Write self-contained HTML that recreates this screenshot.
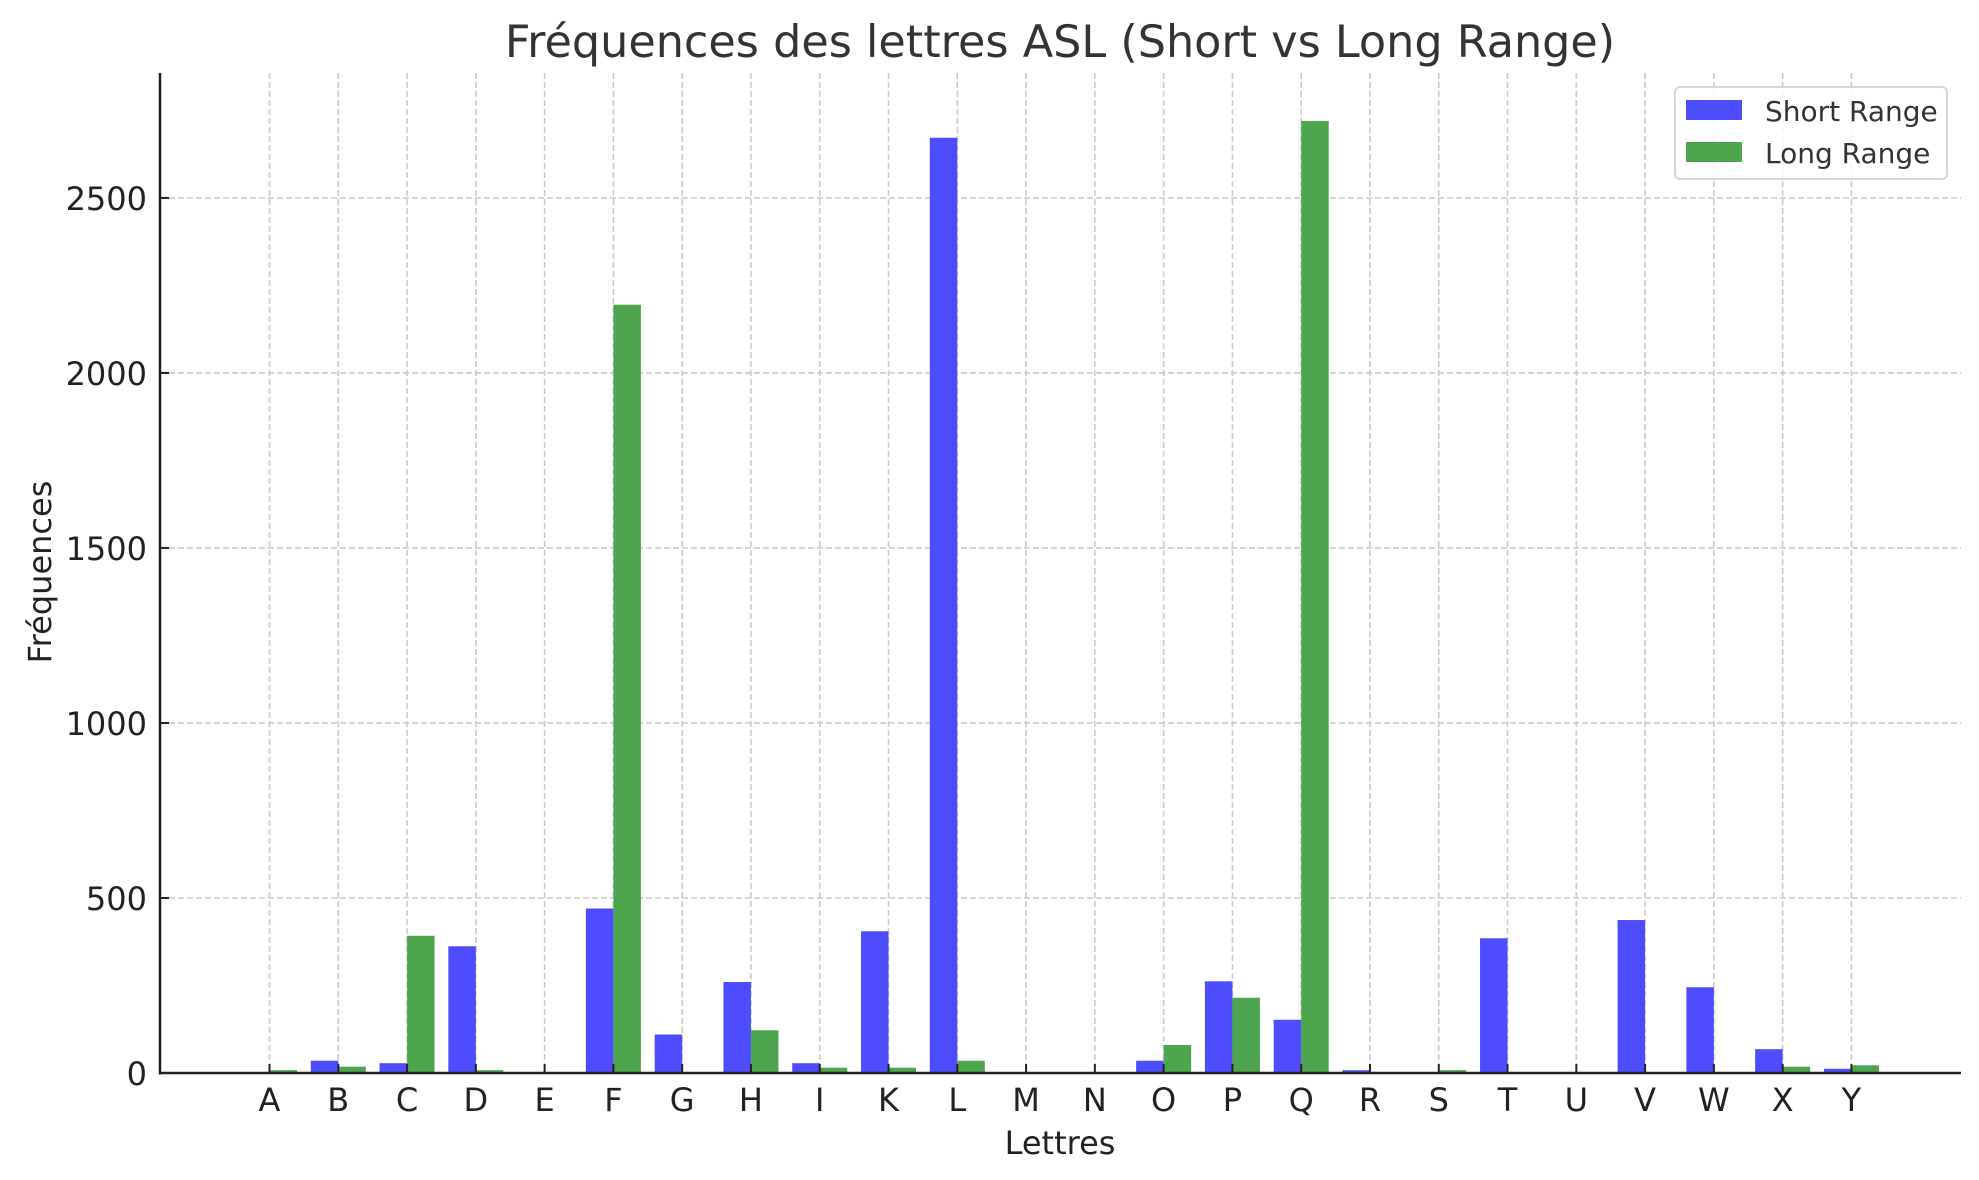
<!DOCTYPE html>
<html><head><meta charset="utf-8"><style>
html,body{margin:0;padding:0;background:#fff;}
svg{display:block;font-family:"DejaVu Sans","Liberation Sans",sans-serif;}
</style></head><body>
<svg id="chart" width="1979" height="1180" viewBox="0 0 1979 1180" xmlns="http://www.w3.org/2000/svg">
<rect width="1979" height="1180" fill="#fff"/>
<text x="1060" y="57" font-size="44.5" fill="#333" text-anchor="middle">Fréquences des lettres ASL (Short vs Long Range)</text>
<g id="grid"></g>
<g id="bars"></g>
<g id="axes"></g>
<text x="1060" y="1154" font-size="32" fill="#222" text-anchor="middle">Lettres</text>
<text transform="translate(51,572) rotate(-90)" font-size="32" fill="#222" text-anchor="middle">Fréquences</text>
<g>
<rect x="1675" y="87" width="272" height="92" rx="5" fill="#fff" fill-opacity="0.8" stroke="#d6d6d6" stroke-width="2"/>
<rect x="1686" y="100" width="56" height="20" fill="rgb(77,77,255)"/>
<text x="1765" y="121" font-size="28" fill="#333">Short Range</text>
<rect x="1686" y="142" width="56" height="20" fill="rgb(77,166,77)"/>
<text x="1765" y="163" font-size="28" fill="#333">Long Range</text>
</g>
</svg>
<script>
const categories = ["A","B","C","D","E","F","G","H","I","K","L","M","N","O","P","Q","R","S","T","U","V","W","X","Y"];
const shortRange = [0,35,28,362,0,470,110,260,28,405,2672,0,0,35,262,152,8,0,385,0,437,245,68,12];
const longRange = [8,18,392,8,0,2195,0,122,15,15,35,0,0,80,215,2720,0,8,0,0,0,0,18,22];
const yTicks = [0,500,1000,1500,2000,2500];

const NS = "http://www.w3.org/2000/svg";
const L = 160, R = 1961, T = 73, B = 1073;
const firstX = 269.5, step = 68.78, yMax = 2857;
function xPos(i){ return firstX + i*step; }
function yPos(v){ return B - (v / yMax) * (B - T); }
const bw = 0.4*step;
function mk(tag, attrs, parent){ const e=document.createElementNS(NS,tag); for(const k in attrs) e.setAttribute(k,attrs[k]); parent.appendChild(e); return e; }
const grid=document.getElementById('grid'), bars=document.getElementById('bars'), axes=document.getElementById('axes');

categories.forEach((c,i)=>{
  const g = mk('line',{x1:xPos(i),x2:xPos(i),y1:T,y2:B,stroke:'#cccccc','stroke-width':1.6,'stroke-dasharray':'6,3'},grid);
  
  
});
yTicks.forEach(v=>{
  const g = mk('line',{x1:L,x2:R,y1:yPos(v),y2:yPos(v),stroke:'#cccccc','stroke-width':1.6,'stroke-dasharray':'6,3'},grid);
  
  
});

categories.forEach((c,i)=>{
  const ys = yPos(shortRange[i]);
  const b1 = mk('rect',{x:xPos(i)-bw,y:ys,width:bw,height:B-ys,fill:'rgb(77,77,255)'},bars);
  
  
  const yl = yPos(longRange[i]);
  const b2 = mk('rect',{x:xPos(i),y:yl,width:bw,height:B-yl,fill:'rgb(77,166,77)'},bars);
  
  
});

const ax1 = mk('line',{x1:L,x2:L,y1:T,y2:B+1.5,stroke:'#222','stroke-width':2.5},axes);


const ax2 = mk('line',{x1:L-1,x2:R,y1:B,y2:B,stroke:'#222','stroke-width':2.5},axes);



categories.forEach((c,i)=>{
  const t = mk('line',{x1:xPos(i),x2:xPos(i),y1:B,y2:B-9,stroke:'#222','stroke-width':2},axes);
  
  
  const lb = mk('text',{x:xPos(i),y:B+38,'font-size':32,fill:'#222','text-anchor':'middle'},axes);
  lb.textContent = c;
  
  
});
yTicks.forEach(v=>{
  const t = mk('line',{x1:L,x2:L+9,y1:yPos(v),y2:yPos(v),stroke:'#222','stroke-width':2},axes);
  
  
  const lb = mk('text',{x:147,y:yPos(v)+12,'font-size':32,fill:'#222','text-anchor':'end'},axes);
  lb.textContent = v;
  
  
});
</script>
</body></html>
